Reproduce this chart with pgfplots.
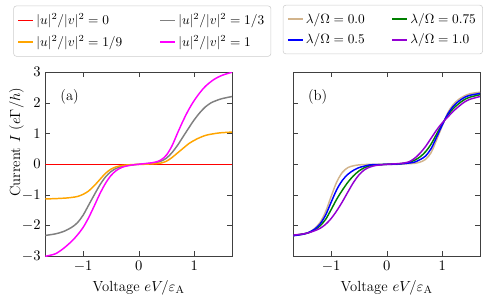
\documentclass[border=0pt]{standalone}
\usepackage{pgfplots}
\pgfplotsset{compat=1.18}
\definecolor{cOrange}{HTML}{FFA500}
\definecolor{cGray}{HTML}{808080}
\definecolor{cMag}{HTML}{FF00FF}
\definecolor{cTan}{HTML}{D2B48C}
\definecolor{cGreen}{HTML}{008000}
\definecolor{cViolet}{HTML}{9400D3}
\pgfplotsset{
  myax/.style={
    scale only axis, width=140pt, height=138pt,
    xmin=-1.68, xmax=1.68, ymin=-3, ymax=3,
    xtick={-1,0,1}, ytick={-3,-2,-1,0,1,2,3},
    axis line style={black!75},
    tick style={black!75, major tick length=3.6pt},
    tick label style={font=\fontsize{10.5}{12}\selectfont},
    xlabel={Voltage $eV/\varepsilon_{\mathrm{A}}$},
    label style={font=\fontsize{11}{13}\selectfont},
    legend columns=2,
    legend cell align=left,
    legend style={draw=black!20, rounded corners=2pt, fill=white, font=\normalsize,
      row sep=2.5pt, inner xsep=3pt, inner ysep=4pt},
    legend image code/.code={\draw[#1] (0pt,0pt) -- (11pt,0pt);},
    every axis plot/.append style={line width=1.1pt, smooth},
  }
}
\begin{document}
\begin{tikzpicture}
\path[use as bounding box] (-34pt,-30.5pt) rectangle (339.5pt,192.2pt);
\begin{axis}[myax,
  ylabel={Current $I$ ($e\Gamma/h$)},
  ylabel style={at={(axis description cs:-0.155,0.62)}, anchor=center},
  legend style={at={(axis description cs:-0.171,1.362)}, anchor=north west,
    /tikz/every even column/.append style={column sep=26pt}},
]
\addplot[red] coordinates {(-1.68,0) (0,0) (1.68,0)};
\addlegendentry{$|u|^2/|v|^2=0$}
\addplot[cGray] coordinates {
(-1.68,-2.32) (-1.5,-2.27) (-1.35,-2.19) (-1.2,-2.05) (-1.1,-1.9) (-1.0,-1.66)
(-0.9,-1.33) (-0.8,-1.0) (-0.7,-0.68) (-0.6,-0.42) (-0.5,-0.24) (-0.4,-0.13)
(-0.3,-0.07) (-0.2,-0.04) (-0.1,-0.02) (0,0) (0.1,0.01) (0.2,0.03) (0.3,0.05)
(0.4,0.1) (0.5,0.2) (0.6,0.38) (0.7,0.62) (0.8,0.9) (0.9,1.18) (1.0,1.45)
(1.1,1.68) (1.2,1.87) (1.3,2.0) (1.4,2.08) (1.5,2.14) (1.68,2.21)};
\addlegendentry{$|u|^2/|v|^2=1/3$}
\addplot[cOrange] coordinates {
(-1.68,-1.13) (-1.5,-1.12) (-1.3,-1.1) (-1.2,-1.08) (-1.1,-1.05) (-1.0,-0.98)
(-0.9,-0.87) (-0.8,-0.7) (-0.7,-0.5) (-0.6,-0.3) (-0.5,-0.16) (-0.4,-0.08)
(-0.3,-0.04) (-0.2,-0.02) (-0.1,-0.01) (0,0) (0.1,0.0) (0.2,0.01) (0.3,0.02)
(0.4,0.04) (0.5,0.1) (0.6,0.22) (0.7,0.37) (0.8,0.52) (0.9,0.67) (1.0,0.78)
(1.1,0.87) (1.2,0.94) (1.3,0.98) (1.4,1.01) (1.5,1.03) (1.68,1.05)};
\addlegendentry{$|u|^2/|v|^2=1/9$}
\addplot[cMag] coordinates {
(-1.68,-3.0) (-1.5,-2.92) (-1.35,-2.74) (-1.2,-2.5) (-1.1,-2.3) (-1.0,-2.06)
(-0.9,-1.74) (-0.8,-1.36) (-0.7,-0.97) (-0.6,-0.63) (-0.5,-0.37) (-0.4,-0.2)
(-0.3,-0.1) (-0.2,-0.05) (-0.1,-0.02) (0,0) (0.1,0.02) (0.2,0.04) (0.3,0.07)
(0.4,0.14) (0.5,0.3) (0.6,0.6) (0.7,1.02) (0.8,1.42) (0.9,1.78) (1.0,2.08)
(1.1,2.33) (1.2,2.54) (1.35,2.76) (1.5,2.9) (1.68,3.0)};
\addlegendentry{$|u|^2/|v|^2=1$}
\node[font=\fontsize{11}{13}\selectfont] at (axis description cs:0.13,0.867) {(a)};
\end{axis}
\begin{axis}[myax, at={(186pt,0pt)},
  yticklabels={},
  legend style={at={(axis description cs:-0.056,1.366)}, anchor=north west,
    /tikz/every even column/.append style={column sep=18pt}},
]
\addplot[cTan] coordinates {
(-1.68,-2.33) (-1.5,-2.28) (-1.4,-2.22) (-1.3,-2.1) (-1.2,-1.9) (-1.1,-1.55)
(-1.0,-1.05) (-0.9,-0.58) (-0.8,-0.27) (-0.7,-0.11) (-0.6,-0.05) (-0.5,-0.02)
(-0.4,-0.01) (-0.3,0) (-0.2,0) (-0.1,0) (0,0) (0.1,0) (0.2,0) (0.3,0.01)
(0.4,0.02) (0.5,0.03) (0.6,0.07) (0.7,0.16) (0.8,0.38) (0.9,0.8) (1.0,1.25)
(1.1,1.68) (1.2,1.95) (1.3,2.12) (1.4,2.23) (1.5,2.3) (1.68,2.35)};
\addlegendentry{$\lambda/\Omega=0.0$}
\addplot[cGreen] coordinates {
(-1.68,-2.32) (-1.5,-2.27) (-1.4,-2.23) (-1.3,-2.14) (-1.2,-2.01) (-1.1,-1.80)
(-1.0,-1.48) (-0.9,-1.14) (-0.8,-0.85) (-0.7,-0.59) (-0.6,-0.38) (-0.5,-0.22)
(-0.4,-0.11) (-0.3,-0.05) (-0.2,-0.02) (-0.1,-0.01) (0,0) (0.1,0.01) (0.2,0.01)
(0.3,0.03) (0.4,0.06) (0.5,0.13) (0.6,0.24) (0.7,0.41) (0.8,0.66) (0.9,0.99)
(1.0,1.31) (1.1,1.60) (1.2,1.82) (1.3,1.98) (1.4,2.11) (1.5,2.19) (1.68,2.27)};
\addlegendentry{$\lambda/\Omega=0.75$}
\addplot[blue] coordinates {
(-1.68,-2.33) (-1.5,-2.28) (-1.4,-2.22) (-1.3,-2.12) (-1.2,-1.95) (-1.1,-1.66)
(-1.0,-1.24) (-0.9,-0.83) (-0.8,-0.53) (-0.7,-0.33) (-0.6,-0.20) (-0.5,-0.11)
(-0.4,-0.06) (-0.3,-0.02) (-0.2,-0.01) (-0.1,-0.01) (0,0) (0.1,0) (0.2,0.01)
(0.3,0.02) (0.4,0.04) (0.5,0.07) (0.6,0.15) (0.7,0.27) (0.8,0.51) (0.9,0.89)
(1.0,1.28) (1.1,1.64) (1.2,1.89) (1.3,2.06) (1.4,2.18) (1.5,2.25) (1.68,2.31)};
\addlegendentry{$\lambda/\Omega=0.5$}
\addplot[cViolet] coordinates {
(-1.68,-2.31) (-1.5,-2.27) (-1.4,-2.23) (-1.3,-2.17) (-1.2,-2.09) (-1.1,-1.96)
(-1.0,-1.77) (-0.9,-1.52) (-0.8,-1.23) (-0.7,-0.91) (-0.6,-0.6) (-0.5,-0.35)
(-0.4,-0.18) (-0.3,-0.09) (-0.2,-0.04) (-0.1,-0.02) (0,0) (0.1,0.01) (0.2,0.02)
(0.3,0.04) (0.4,0.08) (0.5,0.19) (0.6,0.36) (0.7,0.58) (0.8,0.85) (0.9,1.12)
(1.0,1.35) (1.1,1.54) (1.2,1.73) (1.3,1.89) (1.4,2.03) (1.5,2.12) (1.68,2.21)};
\addlegendentry{$\lambda/\Omega=1.0$}
\node[font=\fontsize{11}{13}\selectfont] at (axis description cs:0.13,0.867) {(b)};
\end{axis}
\end{tikzpicture}
\end{document}
